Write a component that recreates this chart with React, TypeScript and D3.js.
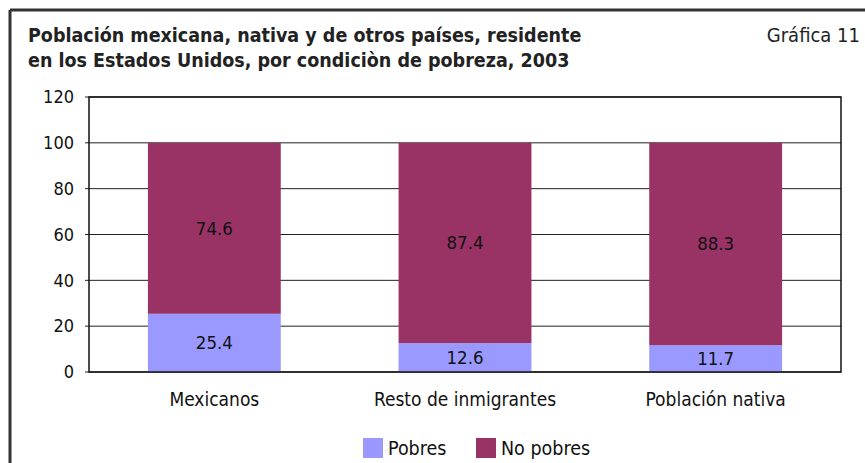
import React from "react";
import * as d3 from "d3";

const categories = ["Mexicanos", "Resto de inmigrantes", "Población nativa"];
const pobres = [25.4, 12.6, 11.7];
const noPobres = [74.6, 87.4, 88.3];
const yTicks = [0, 20, 40, 60, 80, 100, 120];
const seriesNames = ["Pobres", "No pobres"];
const seriesColors = ["#9999ff", "#993366"];

const W = 865;
const H = 463;
const margin = { top: 97, right: 24, bottom: 91, left: 89 };
const font = "'DejaVu Sans Condensed', 'DejaVu Sans', sans-serif";

const App = () => {
    const x = d3
        .scaleBand()
        .domain(categories)
        .range([margin.left, W - margin.right])
        .paddingInner(0.47)
        .paddingOuter(0.235);

    const y = d3
        .scaleLinear()
        .domain([0, 120])
        .range([H - margin.bottom, margin.top]);

    const stacked = categories.map((c, i) => ({
        cat: c,
        parts: [
            { key: 0, y0: 0, y1: pobres[i], v: pobres[i] },
            { key: 1, y0: pobres[i], y1: pobres[i] + noPobres[i], v: noPobres[i] },
        ],
    }));

    const fmt = d3.format(".1f");

    return (
        <svg width={W} height={H} style={{ position: "absolute", left: 0, top: 0 }}>
            <rect x={0} y={0} width={W} height={H} fill="#fff" />
            {/* frame */}
            <line x1={10} y1={10} x2={W} y2={10} stroke="#333" strokeWidth={3} />
            <line x1={10} y1={10} x2={10} y2={H} stroke="#333" strokeWidth={3} />

            <text x={28} y={42} fontFamily={font} fontWeight="bold" fontSize={19.5} fill="#222">
                Población mexicana, nativa y de otros países, residente
            </text>
            <text x={28} y={67} fontFamily={font} fontWeight="bold" fontSize={19.5} fill="#222">
                en los Estados Unidos, por condiciòn de pobreza, 2003
            </text>
            <text x={860} y={42} textAnchor="end" fontFamily={font} fontSize={20} fill="#222">
                Gráfica 11
            </text>

            {/* grid */}
            {yTicks.map(t => (
                <g key={'g' + t}>
                    <line x1={margin.left - 4} x2={W - margin.right} y1={y(t)} y2={y(t)} stroke="#222" strokeWidth={1} />
                    <text x={74} y={y(t)} dy="0.35em" textAnchor="end" fontFamily={font} fontSize={18} fill="#111">
                        {t}
                    </text>
                </g>
            ))}

            {stacked.map(d => (
                <g key={d.cat}>
                    {d.parts.map(p => (
                        <g key={p.key}>
                            <rect
                                x={x(d.cat)}
                                width={x.bandwidth()}
                                y={y(p.y1)}
                                height={y(p.y0) - y(p.y1)}
                                fill={seriesColors[p.key]}
                            />
                            <text
                                x={(x(d.cat) as number) + x.bandwidth() / 2}
                                y={(y(p.y0) + y(p.y1)) / 2}
                                dy="0.35em"
                                textAnchor="middle"
                                fontFamily={font}
                                fontSize={18.5}
                                fill="#111"
                            >
                                {fmt(p.v)}
                            </text>
                        </g>
                    ))}
                    <text
                        x={(x(d.cat) as number) + x.bandwidth() / 2}
                        y={406}
                        textAnchor="middle"
                        fontFamily={font}
                        fontSize={19}
                        fill="#111"
                    >
                        {d.cat}
                    </text>
                </g>
            ))}

            {/* plot frame */}
            <rect
                x={margin.left}
                y={margin.top}
                width={W - margin.right - margin.left}
                height={H - margin.bottom - margin.top}
                fill="none"
                stroke="#111"
                strokeWidth={1.5}
            />

            {/* legend */}
            {seriesNames.map((s, i) => (
                <g key={s} transform={`translate(${[363, 476][i]}, 438)`}>
                    <rect width={20} height={20} fill={seriesColors[i]} />
                    <text x={25} y={10} dy="0.35em" fontFamily={font} fontSize={19.5} fill="#111">
                        {s}
                    </text>
                </g>
            ))}
        </svg>
    );
};

export default App;
